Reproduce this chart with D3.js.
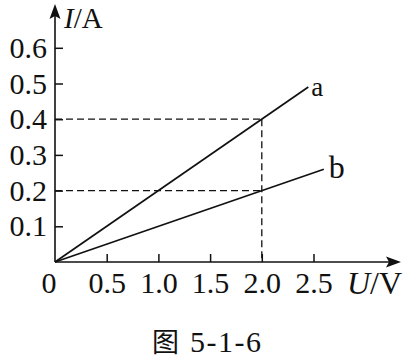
<!DOCTYPE html>
<html>
<head>
<meta charset="utf-8">
<script src="https://cdn.jsdelivr.net/npm/d3@7"></script>
<style>
  html, body { margin: 0; padding: 0; background: #fff; }
  svg { display: block; }
  text { font-family: "Liberation Serif", "Times New Roman", serif; fill: #111; }
</style>
</head>
<body>
<svg id="chart" width="408" height="360"></svg>
<script>
// ---- data ----
const xTicks = [0.5, 1.0, 1.5, 2.0, 2.5];
const yTicks = [0.1, 0.2, 0.3, 0.4, 0.5, 0.6];
const seriesNames = ["a", "b"];
const seriesA = [[0, 0], [2.45, 0.49]];
const seriesB = [[0, 0], [2.6, 0.26]];
const refPoints = [[2.0, 0.4], [2.0, 0.2]];
const xLabel = ["U", "/V"];
const yLabel = ["I", "/A"];
const captionFig = "图";
const captionNum = "5-1-6";

// ---- layout ----
const svg = d3.select("#chart");
const ox = 55, oy = 262;
const x = d3.scaleLinear().domain([0, 2.5]).range([ox, ox + 258.5]);
const y = d3.scaleLinear().domain([0, 0.6]).range([oy, oy - 214.2]);
const ink = "#111";

// axes lines with arrows
svg.append("line").attr("x1", ox).attr("y1", oy).attr("x2", 390).attr("y2", oy)
  .attr("stroke", ink).attr("stroke-width", 1.6);
svg.append("path").attr("d", `M401,${oy} L386,${oy-5.5} L389,${oy} L386,${oy+5.5} Z`).attr("fill", ink);
svg.append("line").attr("x1", ox).attr("y1", oy).attr("x2", ox).attr("y2", 14)
  .attr("stroke", ink).attr("stroke-width", 1.6);
svg.append("path").attr("d", `M${ox},4 L${ox-5.5},19 L${ox},16 L${ox+5.5},19 Z`).attr("fill", ink);

// y axis ticks
const yAxis = d3.axisLeft(y).tickValues(yTicks).tickFormat(d3.format(".1f"))
  .tickSizeInner(-8).tickSizeOuter(0).tickPadding(8);
const gy = svg.append("g").attr("transform", `translate(${ox},0)`).call(yAxis);
gy.select(".domain").remove();
gy.selectAll(".tick line").attr("stroke", ink).attr("stroke-width", 1.5);
gy.selectAll(".tick text").attr("font-size", 30).attr("font-family", "Liberation Serif").attr("fill", ink);

// x axis ticks
const xAxis = d3.axisBottom(x).tickValues(xTicks).tickFormat(d3.format(".1f"))
  .tickSizeInner(-8).tickSizeOuter(0).tickPadding(10);
const gx = svg.append("g").attr("transform", `translate(0,${oy})`).call(xAxis);
gx.select(".domain").remove();
gx.selectAll(".tick line").attr("stroke", ink).attr("stroke-width", 1.5);
gx.selectAll(".tick text").attr("font-size", 30).attr("font-family", "Liberation Serif").attr("fill", ink);

// origin label
svg.append("text").attr("x", ox - 6).attr("y", 293).attr("text-anchor", "middle")
  .attr("font-size", 30).text("0");

// dashed reference lines
refPoints.forEach(([u, i]) => {
  svg.append("line").attr("x1", ox).attr("y1", y(i)).attr("x2", x(u)).attr("y2", y(i))
    .attr("stroke", ink).attr("stroke-width", 1.3).attr("stroke-dasharray", "7,4");
});
svg.append("line").attr("x1", x(2.0)).attr("y1", y(0.4)).attr("x2", x(2.0)).attr("y2", oy)
  .attr("stroke", ink).attr("stroke-width", 1.3).attr("stroke-dasharray", "7,4");

// series lines
const line = d3.line().x(d => x(d[0])).y(d => y(d[1]));
[seriesA, seriesB].forEach(s => {
  svg.append("path").attr("d", line(s)).attr("fill", "none")
    .attr("stroke", ink).attr("stroke-width", 1.7);
});

// series labels
svg.append("text").attr("x", x(seriesA[1][0]) + 3).attr("y", 96).attr("font-size", 27).text(seriesNames[0]);
svg.append("text").attr("x", x(seriesB[1][0]) + 5).attr("y", 178).attr("font-size", 32).text(seriesNames[1]);

// axis titles
const yt = svg.append("text").attr("x", 64).attr("y", 28).attr("font-size", 29);
yt.append("tspan").attr("font-style", "italic").text(yLabel[0]);
yt.append("tspan").text(yLabel[1]);
const xt = svg.append("text").attr("x", 347).attr("y", 294).attr("font-size", 32);
xt.append("tspan").attr("font-style", "italic").text(xLabel[0]);
xt.append("tspan").text(xLabel[1]);

// caption
svg.append("text").attr("x", 152).attr("y", 352).attr("font-size", 27)
  .attr("font-family", "Noto Sans CJK SC").style("font-family", "'Noto Sans CJK SC'").text(captionFig);
svg.append("text").attr("x", 190).attr("y", 352).attr("font-size", 30)
  .attr("letter-spacing", 1.5).text(captionNum);
</script>
</body>
</html>
